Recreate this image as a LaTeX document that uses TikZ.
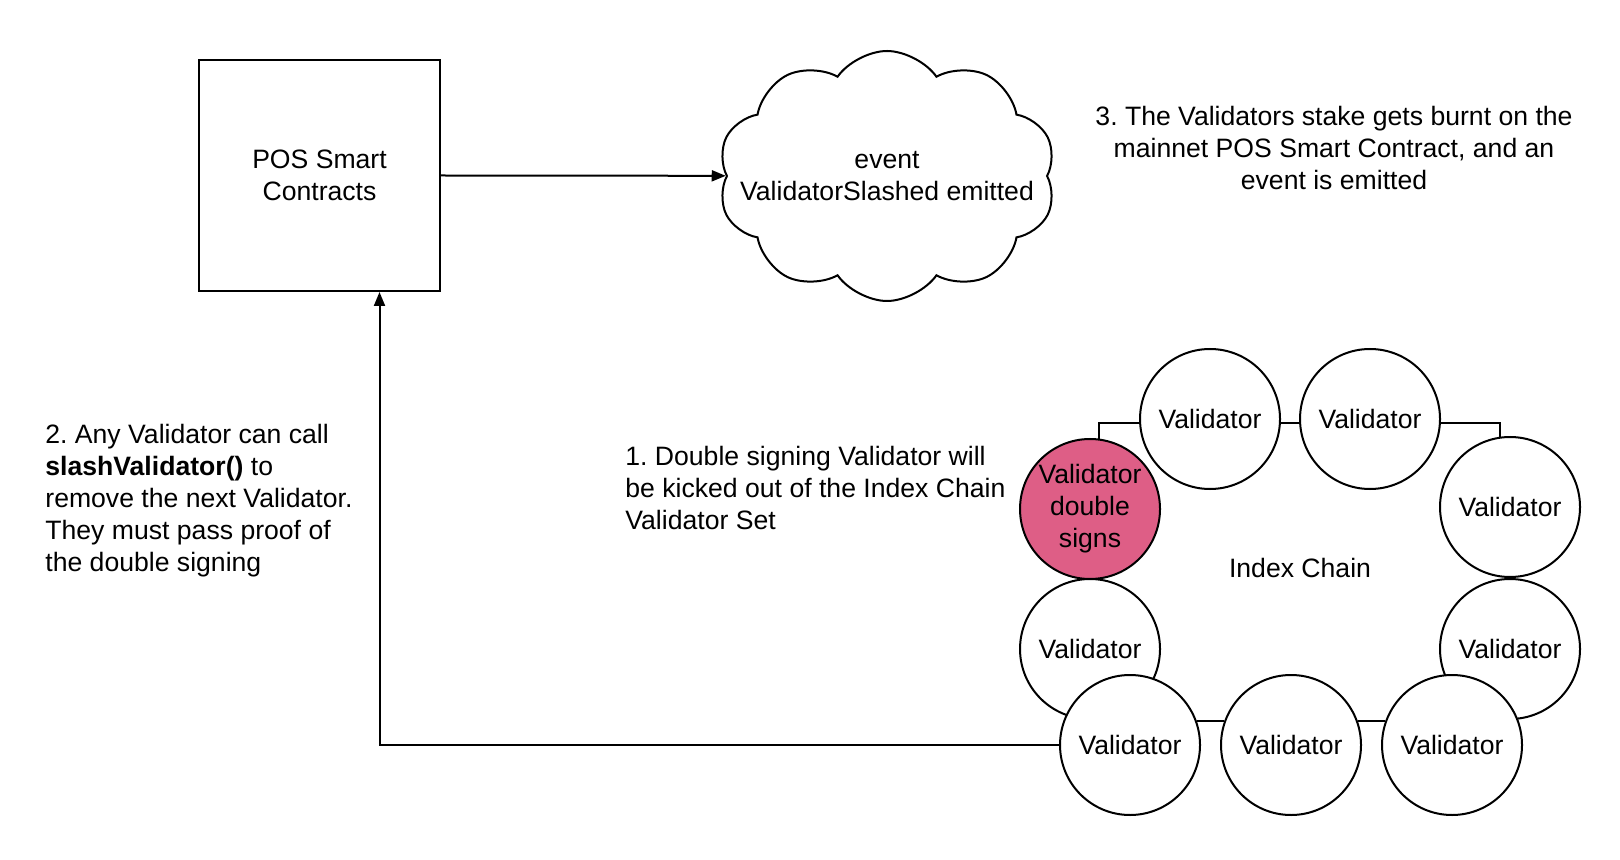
\documentclass[tikz,border=0pt]{standalone}
\usepackage{fontspec}
\setmainfont{Liberation Sans}
\frenchspacing
\usetikzlibrary{positioning,calc,shapes.symbols,arrows.meta}
\definecolor{slashred}{RGB}{222,94,134}
\tikzset{
  validator/.style = {draw, circle, fill=white, minimum size=70pt, inner sep=0pt, line width=1pt, align=center},
  note/.style = {inner sep=0pt},
  arr/.style = {-{Triangle[length=7pt,width=5.5pt]}, line width=1pt},
  wire/.style = {line width=1pt},
}
\begin{document}
\begin{tikzpicture}[x=0.5pt, y=-0.5pt, font=\fontsize{13.3}{16}\selectfont]
  \useasboundingbox (0,0) rectangle (1620,860);
  \node[name=pos, draw, line width=1pt, minimum width=120.5pt, minimum height=115.5pt, align=center] at (319.5,175.5) {POS Smart\\Contracts};
  \node[name=evt, draw, cloud, cloud puffs=10, cloud puff arc=110, cloud ignores aspect, line width=1pt, minimum width=169pt, minimum height=125pt,
        label={[align=center]center:event\\ValidatorSlashed emitted}] at (887,176) {};
  \draw[arr] (pos.east) -- (evt);
  \node[note, align=center] (step3) at (1334,148) {3. The Validators stake gets burnt on the\\mainnet POS Smart Contract, and an\\event is emitted};
  \node[note, anchor=west, align=left] (step2) at (45,501) {2. Any Validator can call\\\textbf{slashValidator()} to\\remove the next Validator.\\They must pass proof of\\the double signing};
  \node[note, anchor=west, align=left] (step1) at (625,488) {1. Double signing Validator will\\be kicked out of the Index Chain\\Validator Set};
  \node (chain) at (1300,568) {Index Chain};
  % ring of validators
  \node[validator, fill=slashred] (vred) at (1090,509) {Validator\\double\\signs};
  \node[validator] (vtopa) at (1210,419) {Validator};
  \node[validator] (vtopb) at (1370,419) {Validator};
  \node[validator] (vrighta) at (1510,507) {Validator};
  \node[validator] (vrightb) at (1510,649) {Validator};
  \node[validator] (vleft) at (1090,649) {Validator};
  \node[validator] (vbotl) at (1130,745) {Validator};
  \node[validator] (vbotm) at (1291,745) {Validator};
  \node[validator] (vbotr) at (1452,745) {Validator};
  \draw[wire] (vred.83) |- (vtopa.183);
  \draw[wire] (vtopa.-3) -- (vtopb.183);
  \draw[wire] (vtopb.-3) -| (vrighta.98);
  \draw[wire] (vbotl.20) -- (vbotm.160);
  \draw[wire] (vbotm.20) -- (vbotr.160);
  \draw[arr] (vbotl.west) -| ([xshift=30pt]pos.south);
\end{tikzpicture}
\end{document}
